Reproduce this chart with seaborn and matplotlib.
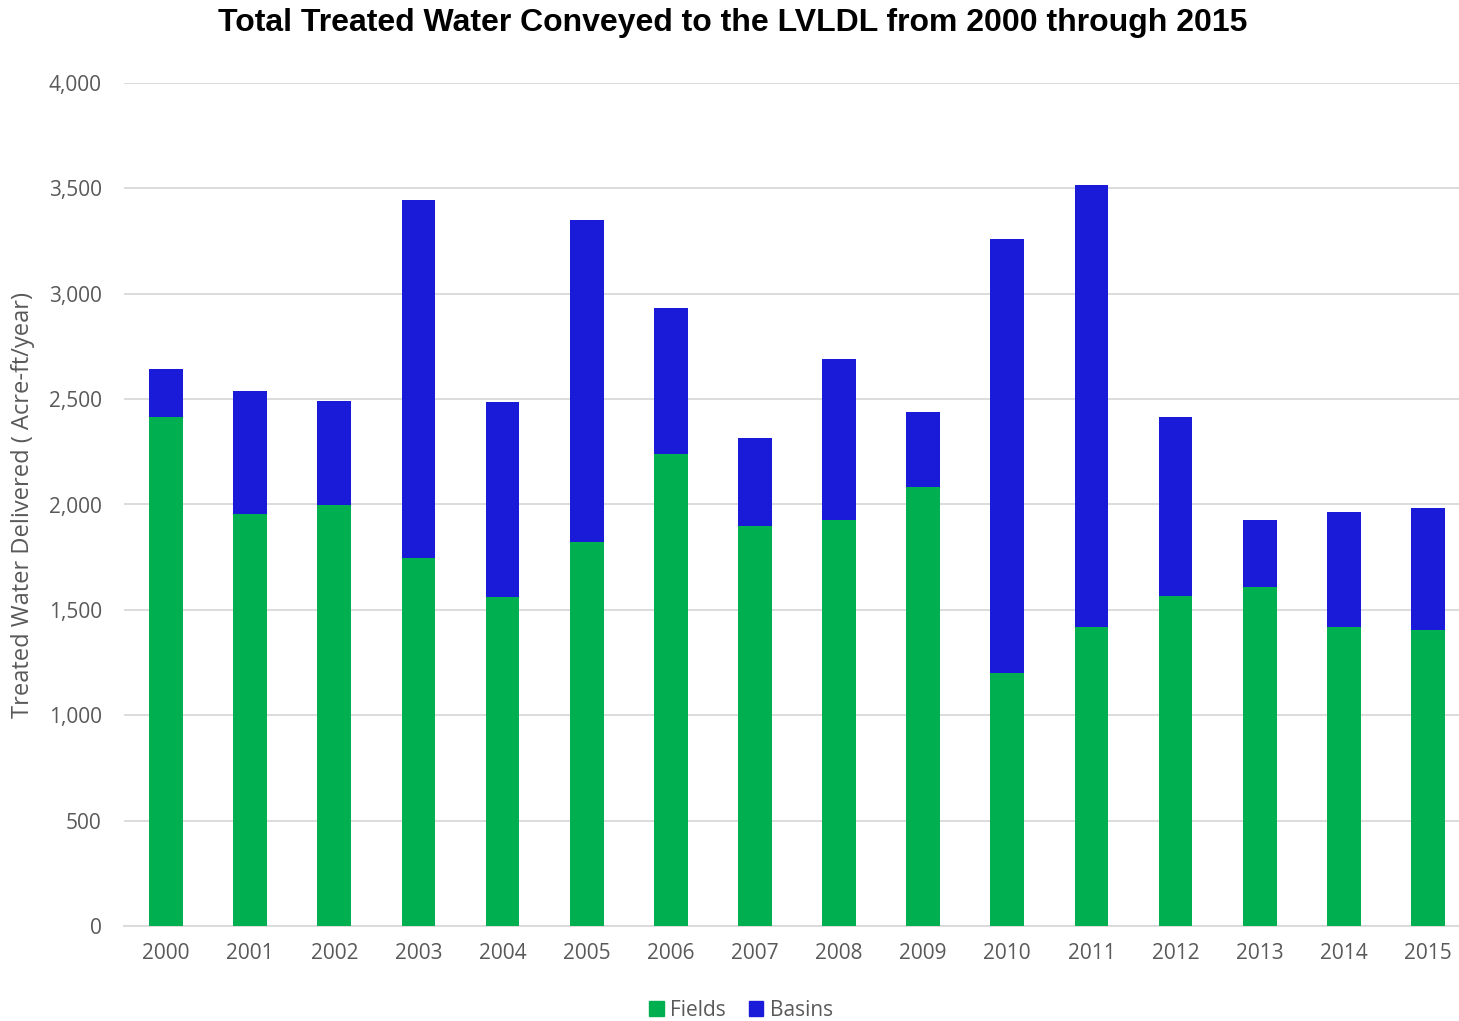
import pandas as pd
import matplotlib.pyplot as plt
import seaborn as sns
from matplotlib.ticker import FuncFormatter
from matplotlib.patches import Patch

# data (acre-ft/year)
years = [str(y) for y in range(2000, 2016)]
fields = [2415, 1955, 1998, 1746, 1561, 1822, 2240, 1898,
          1926, 2083, 1200, 1419, 1566, 1609, 1419, 1405]
basins = [228, 584, 493, 1699, 925, 1528, 692, 418,
          764, 356, 2060, 2097, 849, 317, 545, 578]

df = pd.DataFrame({"Year": years, "Fields": fields, "Basins": basins})
df["Total"] = df["Fields"] + df["Basins"]

sns.set_style("white")
plt.rcParams['font.family'] = ['Open Sans', 'DejaVu Sans']

green = "#00B050"
blue = "#1A1AD9"
grey = "#595959"

fig = plt.figure(figsize=(14.59, 10.21), dpi=100)
ax = fig.add_axes([124 / 1459, 1 - 926 / 1021, 1346 / 1459, (926 - 83) / 1021])

# stacked bars: total in blue, fields drawn over it in green
sns.barplot(data=df, x="Year", y="Total", color=blue, width=0.4,
            saturation=1, linewidth=0, ax=ax, zorder=2)
sns.barplot(data=df, x="Year", y="Fields", color=green, width=0.4,
            saturation=1, linewidth=0, ax=ax, zorder=3)

ax.set_ylim(0, 4000)
ax.set_xlim(-0.5, 15.5)
ax.set_yticks(range(0, 4001, 500))
ax.yaxis.set_major_formatter(FuncFormatter(lambda v, p: f"{int(v):,}"))
ax.grid(axis="y", color="#D9D9D9", linewidth=1.3, zorder=0)
ax.set_axisbelow(True)
for s in ["top", "right", "left"]:
    ax.spines[s].set_visible(False)
ax.spines["bottom"].set_color("#D9D9D9")
ax.spines["bottom"].set_linewidth(1.3)
ax.tick_params(axis="both", length=0, labelsize=15, colors=grey)
ax.tick_params(axis="y", pad=16)
ax.tick_params(axis="x", pad=12)

ax.set_xlabel("")
ax.set_ylabel("Treated Water Delivered ( Acre-ft/year)", fontsize=17,
              color=grey)
ax.yaxis.set_label_coords(-89 / 1346, 0.5)

fig.suptitle("Total Treated Water Conveyed to the LVLDL from 2000 through 2015",
             x=733 / 1459, y=1 - 23 / 1021, va="center", fontsize=23,
             fontweight="bold", color="black",
             family=["Liberation Sans", "DejaVu Sans"])

handles = [Patch(color=green, label="Fields"), Patch(color=blue, label="Basins")]
fig.legend(handles=handles, loc="center", bbox_to_anchor=(741 / 1459, 1 - 1010 / 1021),
           ncol=2, frameon=False, fontsize=15, handlelength=0.7,
           handleheight=0.7, handletextpad=0.3, columnspacing=1.1,
           labelcolor=grey)

fig.savefig("out.png", dpi=100)
